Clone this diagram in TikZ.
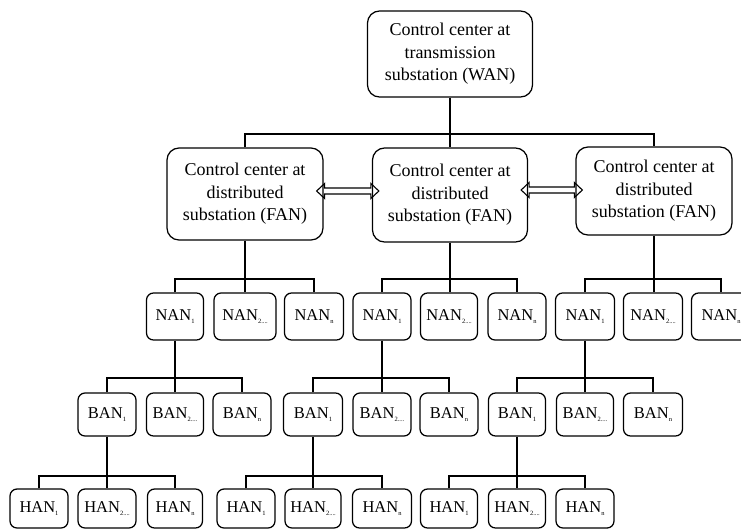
\documentclass[tikz,border=0pt]{standalone}
\usepackage{fontspec}
\setmainfont{Liberation Serif}
\usetikzlibrary{calc}
\newcommand\sbs[1]{\raisebox{-2.5pt}{\fontsize{6.5}{6.5}\selectfont #1}}
\tikzset{
  bigbox/.style={draw, line width=1.25pt, rounded corners=12pt, align=center, inner sep=0pt,
    font=\fontsize{18}{22.5}\selectfont},
  smallbox/.style={draw, line width=1.25pt, rounded corners=7pt, inner sep=0pt,
    font=\fontsize{16.5}{18}\selectfont},
  conn/.style={line width=1.25pt},
  dblarrow/.style={line width=1.1pt, line join=miter}
}
\newcommand\tree[5]{% parent, c1, c2, c3, bus y
  \draw[conn] (#1.south) -- (#1.south |- #3.north);
  \draw[conn] (#2.north) -- (#2.north |- 0,#5) -- (#4.north |- 0,#5) -- (#4.north);}
\newcommand\dblarr[2]{% start coordinate, end coordinate
  \draw[dblarrow] ($(#1)+(-7,0)$) -- ($(#1)+(1,-7.5)$) -- ($(#1)+(1,-3)$) -- ($(#2)+(-1,-3)$)
    -- ($(#2)+(-1,-7.5)$) -- ($(#2)+(7,0)$) -- ($(#2)+(-1,7.5)$) -- ($(#2)+(-1,3)$)
    -- ($(#1)+(1,3)$) -- ($(#1)+(1,7.5)$) -- cycle;}
\begin{document}
\begin{tikzpicture}[x=1pt,y=-1pt]
\useasboundingbox (0,0) rectangle (741,531);
% top levels
\node[bigbox, minimum width=165pt, minimum height=86pt] (wan) at (450,54) {Control center at\\transmission\\substation (WAN)};
\node[bigbox, minimum width=156pt, minimum height=92pt] (fan1) at (245,194) {Control center at\\distributed\\substation (FAN)};
\node[bigbox, minimum width=155pt, minimum height=94pt] (fan2) at (450,195) {Control center at\\distributed\\substation (FAN)};
\node[bigbox, minimum width=156pt, minimum height=88pt] (fan3) at (654,191) {Control center at\\distributed\\substation (FAN)};
% NAN row
\foreach \n/\x/\w/\t in {na1/175/57/NAN\sbs{1}, na2/245/62/NAN\sbs{2....}, na3/314/59/NAN\sbs{n},
  nb1/382/58/NAN\sbs{1}, nb2/449/57/NAN\sbs{2....}, nb3/517/58/NAN\sbs{n},
  nc1/585/59/NAN\sbs{1}, nc2/653/59/NAN\sbs{2....}, nc3/721/59/NAN\sbs{n}}
  \node[smallbox, minimum width=\w pt, minimum height=47pt] (\n) at (\x,316.5) {\t};
% BAN row
\foreach \n/\x/\w/\t in {ba1/107/58/BAN\sbs{1}, ba2/175/57/BAN\sbs{2....}, ba3/242/58/BAN\sbs{n},
  bb1/313/59/BAN\sbs{1}, bb2/382/58/BAN\sbs{2....}, bb3/449/58/BAN\sbs{n},
  bc1/517/57/BAN\sbs{1}, bc2/585/57/BAN\sbs{2....}, bc3/653/59/BAN\sbs{n}}
  \node[smallbox, minimum width=\w pt, minimum height=43pt] (\n) at (\x,414.5) {\t};
% HAN row
\foreach \n/\x/\w/\t in {ha1/39/58/HAN\sbs{1}, ha2/107/58/HAN\sbs{2....}, ha3/175/55/HAN\sbs{n},
  hb1/246/58/HAN\sbs{1}, hb2/313/56/HAN\sbs{2....}, hb3/382/59/HAN\sbs{n},
  hc1/449/57/HAN\sbs{1}, hc2/517/57/HAN\sbs{2....}, hc3/585/58/HAN\sbs{n}}
  \node[smallbox, minimum width=\w pt, minimum height=39pt] (\n) at (\x,508.5) {\t};
% tree connectors
\tree{wan}{fan1}{fan2}{fan3}{134}
\tree{fan1}{na1}{na2}{na3}{279}
\tree{fan2}{nb1}{nb2}{nb3}{279}
\tree{fan3}{nc1}{nc2}{nc3}{279}
\tree{na1}{ba1}{ba2}{ba3}{378}
\tree{nb1}{bb1}{bb2}{bb3}{378}
\tree{nc1}{bc1}{bc2}{bc3}{378}
\tree{ba1}{ha1}{ha2}{ha3}{476}
\tree{bb1}{hb1}{hb2}{hb3}{476}
\tree{bc1}{hc1}{hc2}{hc3}{476}
% double arrows between FANs
\coordinate (a1s) at (fan1.east |- 0,191);
\coordinate (a1e) at (fan2.west |- 0,191);
\coordinate (a2s) at (fan2.east |- 0,190);
\coordinate (a2e) at (fan3.west |- 0,190);
\dblarr{a1s}{a1e}
\dblarr{a2s}{a2e}
\end{tikzpicture}
\end{document}
